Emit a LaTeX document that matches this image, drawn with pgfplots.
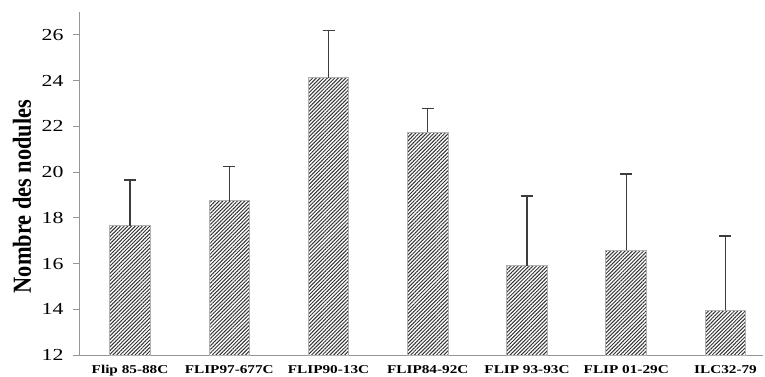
\documentclass[border=0pt]{standalone}
\usepackage{fontspec}
\setmainfont{Liberation Serif}
\newfontfamily\ytickfont{Liberation Serif}[FakeStretch=1.3]
\newfontfamily\xtickfont{Liberation Serif}[FakeStretch=1.27]
\newfontfamily\ylabfont{Liberation Serif}[FakeStretch=0.86]
\usepackage{pgfplots}
\pgfplotsset{compat=1.18}
\usetikzlibrary{patterns.meta}
\definecolor{axisgray}{RGB}{150,150,150}
\definecolor{errgray}{RGB}{60,60,60}
\begin{document}
\begin{tikzpicture}
\begin{axis}[
  scale only axis, width=683pt, height=343pt,
  xmin=-0.504, xmax=6.378, ymin=12, ymax=27,
  axis x line*=bottom, axis y line*=left,
  axis line style={-, axisgray, line width=1pt},
  xtick={0,1,2,3,4,5,6},
  xticklabels={Flip 85-88C, FLIP97-677C, FLIP90-13C, FLIP84-92C, FLIP 93-93C, FLIP 01-29C, ILC32-79},
  ytick={12,14,16,18,20,22,24,26},
  /pgf/number format/assume math mode=true,
  tick align=outside, major tick length=7pt,
  xtick style={draw=none},
  ytick style={axisgray, line width=1pt},
  yticklabel style={font=\ytickfont\fontsize{16.8}{18}\selectfont, text=black, xshift=-6pt},
  xticklabel style={font=\xtickfont\bfseries\fontsize{12}{14}\selectfont, text=black},
  ylabel={Nombre des nodules},
  ylabel style={font=\ylabfont\bfseries\fontsize{26}{28}\selectfont, at={(axis description cs:-0.0849,0.462)}, anchor=center},
  clip=true,
]
\addplot[ybar, bar width=40.5pt, draw=gray!60, line width=1pt,
  pattern={Lines[angle=45,distance=2.6pt,line width=1pt]}, pattern color=black!80,
  error bars/.cd, y dir=plus, y explicit,
  error bar style={errgray, line width=1.3pt},
  error mark options={errgray, line width=1.3pt, mark size=6pt, rotate=90}]
coordinates {
  (0,17.65) +- (0,2.00)
  (1,18.74) +- (0,1.51)
  (2,24.13) +- (0,2.07)
  (3,21.75) +- (0,1.02)
  (4,15.90) +- (0,3.05)
  (5,16.58) +- (0,3.34)
  (6,13.95) +- (0,3.25)
};
\end{axis}
\pgfresetboundingbox
\path ([xshift=-80pt,yshift=-21pt]current axis.south west) rectangle ([xshift=2pt,yshift=12pt]current axis.north east);
\end{tikzpicture}
\end{document}
